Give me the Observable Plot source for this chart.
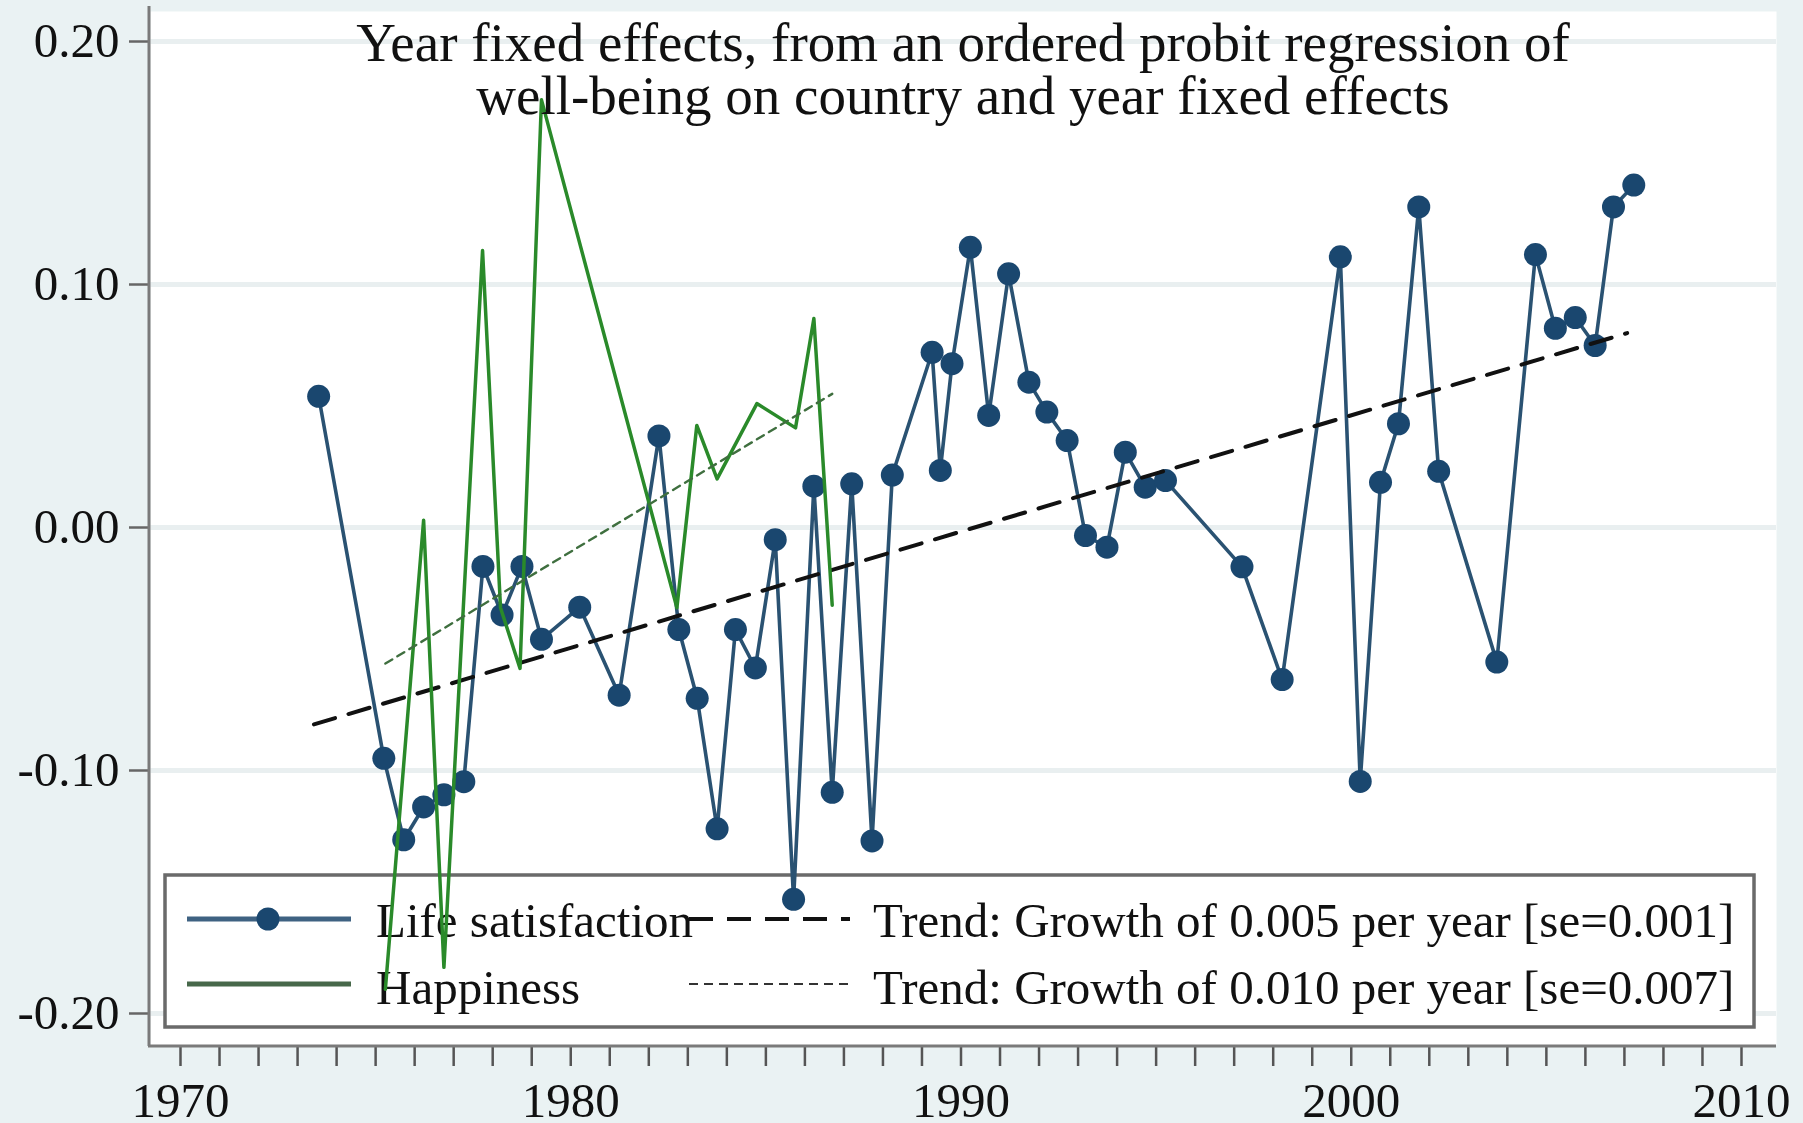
<!DOCTYPE html>
<html>
<head>
<meta charset="utf-8">
<script src="https://cdn.jsdelivr.net/npm/d3@7"></script>
<script src="https://cdn.jsdelivr.net/npm/@observablehq/plot@0.6"></script>
<style>
  html, body { margin: 0; padding: 0; background: #eaf2f3; }
  #chart { width: 1803px; height: 1123px; overflow: hidden; }
</style>
</head>
<body>
<div id="chart"></div>
<script>
// ---------------- Data ----------------
const lifeYears = [1973.54, 1975.21, 1975.72, 1976.23, 1976.75, 1977.26, 1977.75, 1978.24, 1978.75, 1979.25,
  1980.23, 1981.24, 1982.26, 1982.77, 1983.24, 1983.75, 1984.22, 1984.73, 1985.24, 1985.71,
  1986.23, 1986.70, 1987.20, 1987.72, 1988.24, 1989.26, 1989.47, 1989.77, 1990.24, 1990.71,
  1991.22, 1991.74, 1992.20, 1992.72, 1993.19, 1993.74, 1994.21, 1994.72, 1995.24, 1997.20,
  1998.23, 1999.72, 2000.23, 2000.75, 2001.21, 2001.73, 2002.24, 2003.73, 2004.72, 2005.23,
  2005.74, 2006.25, 2006.72, 2007.24];
const lifeValues = [0.054, -0.095, -0.1285, -0.115, -0.110, -0.1046, -0.016, -0.036, -0.016, -0.046,
  -0.0328, -0.069, 0.0377, -0.042, -0.0703, -0.124, -0.042, -0.0578, -0.005, -0.153,
  0.017, -0.109, 0.018, -0.129, 0.0216, 0.0721, 0.0235, 0.0674, 0.1153, 0.0461,
  0.1044, 0.0598, 0.0475, 0.0358, -0.0033, -0.0081, 0.031, 0.0166, 0.0193, -0.0162,
  -0.0626, 0.1114, -0.1045, 0.0186, 0.0427, 0.1319, 0.0231, -0.0554, 0.1123, 0.082,
  0.0864, 0.0749, 0.1319, 0.1409];

const happyYears = [1975.25, 1976.23, 1976.75, 1977.74, 1978.20, 1978.70, 1979.25, 1982.72,
  1983.23, 1983.75, 1984.77, 1985.76, 1986.23, 1986.70];
const happyValues = [-0.190, 0.003, -0.181, 0.114, -0.033, -0.058, 0.176, -0.033,
  0.042, 0.020, 0.051, 0.041, 0.086, -0.032];

// fitted trend lines (endpoints)
const lifeTrendYears = [1973.42, 2007.07];
const lifeTrendValues = [-0.081, 0.080];
const happyTrendYears = [1975.25, 1986.70];
const happyTrendValues = [-0.056, 0.055];

const yTicks = [-0.20, -0.10, 0.00, 0.10, 0.20];
const xTicks = d3.range(1970, 2011);
const xLabelTicks = [1970, 1980, 1990, 2000, 2010];

const subtitleLines = ["Year fixed effects, from an ordered probit regression of",
                       "well-being on country and year fixed effects"];
const legendLabels = ["Life satisfaction", "Trend: Growth of 0.005 per year [se=0.001]",
                      "Happiness", "Trend: Growth of 0.010 per year [se=0.007]"];

// ---------------- Build tables ----------------
const life = lifeYears.map((x, i) => ({year: x, value: lifeValues[i]}));
const happy = happyYears.map((x, i) => ({year: x, value: happyValues[i]}));
const lifeTrend = lifeTrendYears.map((x, i) => ({year: x, value: lifeTrendValues[i]}));
const happyTrend = happyTrendYears.map((x, i) => ({year: x, value: happyTrendValues[i]}));

// ---------------- Style ----------------
const W = 1803, H = 1123;
const ML = 150, MR = 27, MT = 11, MB = 78;
const FONT = "'Liberation Serif', 'Times New Roman', serif";
const NAVY = "#1a476f";
const NAVY_LINE = "#2a5272";
const GREEN = "#2a8a2a";
const GREEN_TREND = "#3f6f3f";
const TEXT = "#111";

function legendMark() {
  const g = d3.create("svg:g").attr("font-family", FONT).attr("font-size", 49)
    .attr("fill", TEXT).attr("text-anchor", "start");
  g.append("rect").attr("x", 165).attr("y", 875).attr("width", 1589).attr("height", 152)
    .attr("fill", "white").attr("stroke", "#6a6a6a").attr("stroke-width", 3.5);
  const r1 = 919, r2 = 984;
  // row 1
  g.append("line").attr("x1", 187).attr("x2", 351).attr("y1", r1).attr("y2", r1)
    .attr("stroke", "#3f6282").attr("stroke-width", 5);
  g.append("circle").attr("cx", 268).attr("cy", r1).attr("r", 11.5).attr("fill", NAVY);
  g.append("text").attr("x", 376).attr("y", r1 + 18).text(legendLabels[0]);
  g.append("line").attr("x1", 689).attr("x2", 850).attr("y1", r1).attr("y2", r1)
    .attr("stroke", "#111").attr("stroke-width", 4).attr("stroke-dasharray", "24,14");
  g.append("text").attr("x", 873).attr("y", r1 + 18).text(legendLabels[1]);
  // row 2
  g.append("line").attr("x1", 187).attr("x2", 351).attr("y1", r2).attr("y2", r2)
    .attr("stroke", "#47684a").attr("stroke-width", 5);
  g.append("text").attr("x", 376).attr("y", r2 + 20).text(legendLabels[2]);
  g.append("line").attr("x1", 689).attr("x2", 852).attr("y1", r2).attr("y2", r2)
    .attr("stroke", "#333").attr("stroke-width", 2.2).attr("stroke-dasharray", "9,6");
  g.append("text").attr("x", 873).attr("y", r2 + 20).text(legendLabels[3]);
  return g.node();
}

function subtitleMark() {
  const g = d3.create("svg:g").attr("font-family", FONT).attr("font-size", 55)
    .attr("fill", TEXT).attr("text-anchor", "middle");
  subtitleLines.forEach((t, i) => {
    g.append("text").attr("x", (ML + (W - MR)) / 2).attr("y", 61 + i * 53).text(t);
  });
  return g.node();
}

function axisLinesMark() {
  const g = d3.create("svg:g").attr("stroke", "#7a7a7a").attr("stroke-width", 3);
  g.append("line").attr("x1", ML - 1).attr("x2", ML - 1).attr("y1", 6).attr("y2", H - MB + 1);
  g.append("line").attr("x1", ML - 2).attr("x2", W - MR).attr("y1", H - MB + 1).attr("y2", H - MB + 1);
  return g.node();
}

const chart = Plot.plot({
  width: W, height: H,
  marginLeft: ML, marginRight: MR, marginTop: MT, marginBottom: MB,
  x: {domain: [1969.2313, 2010.897], label: null},
  y: {domain: [-0.21317, 0.21235], label: null},
  style: {background: "#eaf2f3", fontFamily: FONT, color: TEXT, overflow: "visible"},
  marks: [
    Plot.frame({fill: "white", stroke: "none"}),
    Plot.gridY(yTicks, {stroke: "#e9eff0", strokeOpacity: 1, strokeWidth: 5}),
    Plot.axisY(yTicks, {tickFormat: d => d.toFixed(2), tickSize: 21, tickPadding: 10,
      fontSize: 49, stroke: "#666", strokeWidth: 2.5, label: null}),
    Plot.axisX(xTicks, {tickFormat: d => (xLabelTicks.includes(d) ? String(d) : ""),
      tickSize: 21, tickPadding: 16, fontSize: 49, stroke: "#555", strokeWidth: 2.5, label: null}),
    axisLinesMark,
    legendMark,
    Plot.line(life, {x: "year", y: "value", stroke: NAVY_LINE, strokeWidth: 3.6}),
    Plot.dot(life, {x: "year", y: "value", r: 11.5, fill: NAVY, stroke: "none"}),
    Plot.line(lifeTrend, {x: "year", y: "value", stroke: "#111", strokeWidth: 4, strokeDasharray: "22,14"}),
    Plot.line(happy, {x: "year", y: "value", stroke: GREEN, strokeWidth: 3.5}),
    Plot.line(happyTrend, {x: "year", y: "value", stroke: GREEN_TREND, strokeWidth: 2.4, strokeDasharray: "8,6"}),
    subtitleMark
  ]
});
document.getElementById("chart").appendChild(chart);
</script>
</body>
</html>
